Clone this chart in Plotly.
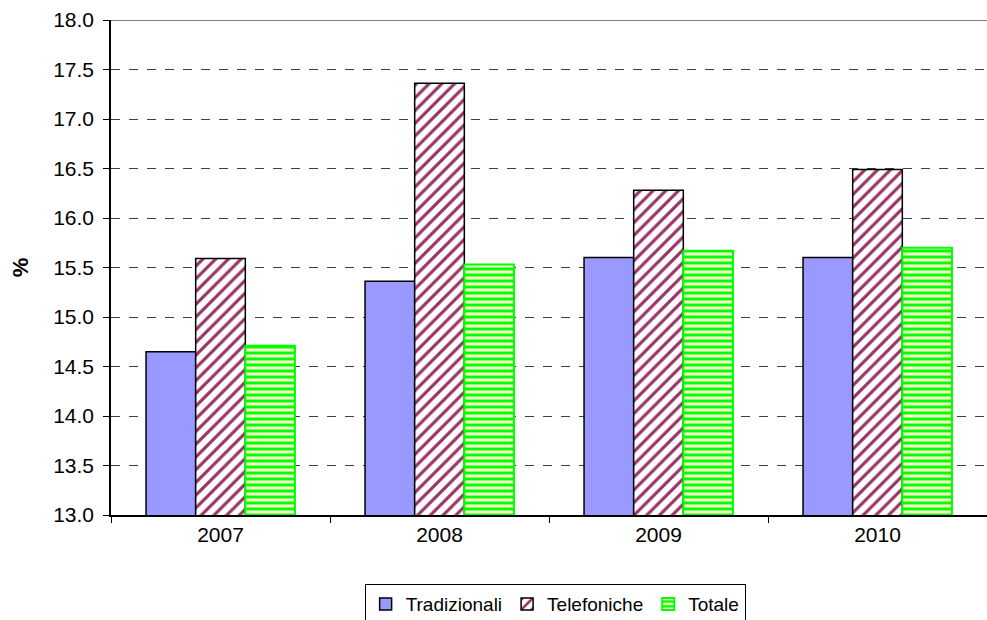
import plotly.graph_objects as go

years = ["2007", "2008", "2009", "2010"]
tradizionali = [14.65, 15.36, 15.60, 15.60]
telefoniche = [15.59, 17.36, 16.28, 16.49]
totale = [14.71, 15.53, 15.67, 15.70]
y_ticks = [13.0, 13.5, 14.0, 14.5, 15.0, 15.5, 16.0, 16.5, 17.0, 17.5, 18.0]

font_family = "Liberation Sans, Arial, sans-serif"

fig = go.Figure()
fig.add_trace(go.Bar(
    x=years, y=tradizionali, name="Tradizionali",
    marker=dict(color="#9999FF", line=dict(color="black", width=1.5)),
))
fig.add_trace(go.Bar(
    x=years, y=telefoniche, name="Telefoniche",
    marker=dict(color="white", line=dict(color="black", width=1.5),
                pattern=dict(shape="/", fgcolor="#993366", bgcolor="white",
                             fgopacity=1, size=9, solidity=0.35, fillmode="replace")),
))
fig.add_trace(go.Bar(
    x=years, y=totale, name="Totale",
    marker=dict(color="#FFFFCC", line=dict(color="#00FF00", width=2),
                pattern=dict(shape="-", fgcolor="#00FF00", bgcolor="#FFFFCC",
                             fgopacity=1, size=6, solidity=0.5, fillmode="replace")),
))

# solid line closing the top of the plotting area
fig.add_shape(type="line", xref="paper", yref="y", x0=0, x1=1, y0=18, y1=18,
              line=dict(color="#808080", width=2))

fig.update_layout(
    width=987, height=620,
    margin=dict(l=111, r=0, t=20, b=105, autoexpand=False),
    paper_bgcolor="white", plot_bgcolor="white",
    barmode="group", bargap=0.32, bargroupgap=0,
    font=dict(family=font_family, size=21, color="black"),
    showlegend=True,
    legend=dict(orientation="h", x=0.507, xanchor="center",
                yref="container", y=0.058, yanchor="top",
                bordercolor="black", borderwidth=1, font=dict(size=19),
                itemwidth=30, traceorder="normal", tracegroupgap=0),
    xaxis=dict(showline=True, linecolor="black", linewidth=1.5,
               ticks="outside", tickson="boundaries", ticklen=6,
               tickcolor="black", showgrid=False,
               tickfont=dict(size=21)),
    yaxis=dict(range=[13, 18], tickvals=y_ticks,
               ticktext=[f"{v:.1f}" for v in y_ticks],
               showline=True, linecolor="black", linewidth=1.5,
               ticks="outside", ticklen=6, tickcolor="black",
               ticklabelstandoff=5,
               showgrid=True, gridcolor="#404040", griddash="dash", gridwidth=1,
               zeroline=False, tickfont=dict(size=21),
               title=dict(text="<b>%</b>", font=dict(size=22), standoff=18)),
)

fig.write_html("out.html")
